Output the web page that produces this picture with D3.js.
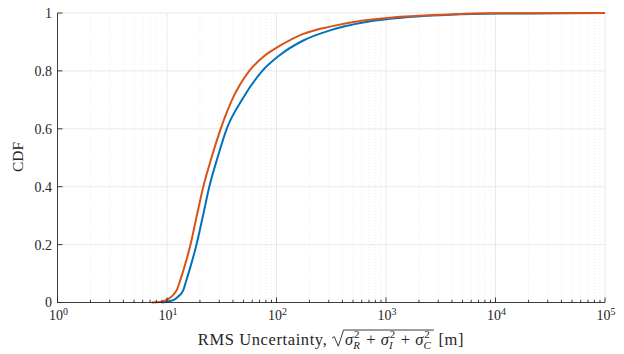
<!DOCTYPE html>
<html><head><meta charset="utf-8">
<script src="https://cdn.jsdelivr.net/npm/d3@7"></script>
<style>body{margin:0;background:#fff}svg{display:block}</style>
</head><body><svg id="c" width="624" height="354"></svg>
<script>
// ---- data ----
const blueX = [8.95, 10.0, 11.42, 12.6, 14.09, 15.23, 16.39, 18.6, 21.32, 24.34, 28.92, 35.1, 48.4, 74.2, 107.6, 175.7, 308, 620, 1088, 1919, 3842, 11000, 31460, 100000];
const blueY = [0, 0.003, 0.008, 0.02, 0.043, 0.084, 0.124, 0.2, 0.3, 0.4, 0.5, 0.6, 0.7, 0.8, 0.855, 0.905, 0.94, 0.967, 0.98, 0.988, 0.994, 0.998, 0.999, 1];
const orangeX = [7.25, 8.63, 9.94, 11.11, 12.27, 13.42, 14.45, 16.39, 18.72, 21.45, 25.49, 30.93, 39.24, 56.44, 75.8, 107.6, 175.7, 308, 620, 1088, 3842, 8910, 100000];
const orangeY = [0, 0.002, 0.009, 0.022, 0.043, 0.085, 0.124, 0.2, 0.3, 0.4, 0.5, 0.6, 0.7, 0.8, 0.849, 0.887, 0.928, 0.953, 0.974, 0.984, 0.995, 0.999, 1];
const xDomain = [1, 1e5];
const yTicks = [0, 0.2, 0.4, 0.6, 0.8, 1];
const yTickLabels = ["0", "0.2", "0.4", "0.6", "0.8", "1"];
const xTickExp = [0, 1, 2, 3, 4, 5];
const yLabel = "CDF";

const FONT = "'Liberation Serif', 'DejaVu Serif', serif";
const svg = d3.select("#c");
const L = 57.5, R = 605, T = 13, B = 302.5;
const x = d3.scaleLog().domain(xDomain).range([L, R]);
const y = d3.scaleLinear().domain([0, 1]).range([B, T]);

const minor = [];
for (let e = 0; e < 5; e++) for (let k = 2; k <= 9; k++) minor.push(k * Math.pow(10, e));
const major = xTickExp.map(e => Math.pow(10, e));

// grid
const g = svg.append("g");
g.selectAll(".mg").data(minor).join("line")
  .attr("x1", d => x(d)).attr("x2", d => x(d)).attr("y1", T).attr("y2", B)
  .attr("stroke", "#e4e4e4").attr("stroke-width", 0.7).attr("stroke-dasharray", "1,2");
g.selectAll(".Mg").data(major.slice(1)).join("line")
  .attr("x1", d => x(d)).attr("x2", d => x(d)).attr("y1", T).attr("y2", B)
  .attr("stroke", "#e3e3e3").attr("stroke-width", 0.8);
g.selectAll(".yg").data(yTicks.slice(1)).join("line")
  .attr("x1", L).attr("x2", R).attr("y1", d => y(d)).attr("y2", d => y(d))
  .attr("stroke", "#e3e3e3").attr("stroke-width", 0.8);

// lines
const line = d3.line().x(d => x(d[0])).y(d => y(d[1])).curve(d3.curveMonotoneX);
svg.append("path").datum(blueX.map((v, i) => [v, blueY[i]]))
  .attr("d", line).attr("fill", "none").attr("stroke", "#0072BD").attr("stroke-width", 2);
svg.append("path").datum(orangeX.map((v, i) => [v, orangeY[i]]))
  .attr("d", line).attr("fill", "none").attr("stroke", "#D95319").attr("stroke-width", 2);

// axes lines & ticks
const ax = svg.append("g").attr("stroke", "#262626").attr("stroke-width", 0.9);
ax.append("line").attr("x1", L).attr("x2", R).attr("y1", B).attr("y2", B);
ax.append("line").attr("x1", L).attr("x2", L).attr("y1", T).attr("y2", B);
ax.selectAll(".xt").data(major).join("line")
  .attr("x1", d => x(d)).attr("x2", d => x(d)).attr("y1", B).attr("y2", B - 5);
ax.selectAll(".xm").data(minor).join("line")
  .attr("x1", d => x(d)).attr("x2", d => x(d)).attr("y1", B).attr("y2", B - 2.7);
ax.selectAll(".yt").data(yTicks).join("line")
  .attr("x1", L).attr("x2", L + 5).attr("y1", d => y(d)).attr("y2", d => y(d));

// y tick labels
svg.selectAll(".yl").data(yTicks).join("text")
  .attr("x", L - 5.5).attr("y", d => y(d)).attr("dy", "0.35em")
  .attr("text-anchor", "end").attr("font-family", FONT).attr("font-size", 14)
  .attr("fill", "#262626").text((d, i) => yTickLabels[i]);

// x tick labels 10^e
xTickExp.forEach(e => {
  const t = svg.append("text").attr("y", 320).attr("font-family", FONT)
    .attr("font-size", 14).attr("fill", "#262626");
  t.append("tspan").text("10");
  t.append("tspan").attr("font-size", 10).attr("dy", -5.5).text(String(e));
  const w = t.node().getComputedTextLength();
  t.attr("x", x(Math.pow(10, e)) - w / 2 + 1);
});

// y label
svg.append("text").attr("transform", `translate(23,157) rotate(-90)`)
  .attr("text-anchor", "middle").attr("font-family", FONT).attr("font-size", 15.5)
  .attr("fill", "#262626").text(yLabel);

// x label with radical
const fs = 16.5, ss = 11, base = 345, LS = 0.6;
const lab = svg.append("g").attr("font-family", FONT).attr("fill", "#262626");
function piece(txt, size, style, dx, dy, ls) {
  const t = lab.append("text").attr("x", dx).attr("y", base + dy)
    .attr("font-size", size).attr("font-style", style).attr("letter-spacing", ls || 0)
    .attr("xml:space", "preserve").text(txt);
  return t.node().getComputedTextLength();
}
let cx = 0;
cx += piece("RMS Uncertainty, ", fs, "normal", cx, 0, LS);
const radX = cx;
cx += 13;
const terms = ["R", "I", "C"];
terms.forEach((tm, i) => {
  cx += piece("σ", fs, "italic", cx, 0);
  const w2 = piece("2", ss, "normal", cx + 0.8, -7);
  const ws = piece(tm, ss, "italic", cx, 3.8);
  cx += Math.max(w2, ws) + 1.5;
  if (i < 2) cx += piece(" + ", fs, "normal", cx, 0, LS);
});
const contentEnd = cx + 1.5;
lab.append("path")
  .attr("d", `M${radX},${base - 7} l2.2,-1.3 l4,9.5 L${radX + 11.5},${base - 15} H${contentEnd}`)
  .attr("fill", "none").attr("stroke", "#262626").attr("stroke-width", 0.9);
cx = contentEnd;
cx += piece(" [m]", fs, "normal", cx, 0, LS);
lab.attr("transform", `translate(${331 - cx / 2},0)`);
</script></body></html>
